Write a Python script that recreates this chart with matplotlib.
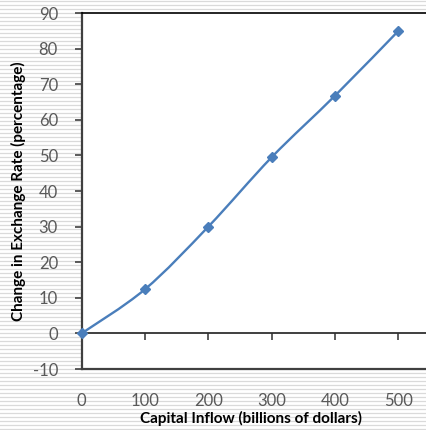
import matplotlib
matplotlib.use('Agg')
import matplotlib.pyplot as plt
from matplotlib.path import Path
from matplotlib.patches import PathPatch

# data
capital_inflow = [0, 100, 200, 300, 400, 500]
rate_change = [0, 12.4, 30.0, 49.5, 66.8, 85.0]
x_ticks = [0, 100, 200, 300, 400, 500]
y_ticks = [-10, 0, 10, 20, 30, 40, 50, 60, 70, 80, 90]

line_color = '#4a7ebb'
tick_color = '#595959'
plt.rcParams['font.family'] = ['Lato', 'DejaVu Sans']
plt.rcParams['axes.unicode_minus'] = False

fig = plt.figure(figsize=(4.27, 4.30), dpi=100)

# striped background
bg = fig.add_axes([0, 0, 1, 1], zorder=-1)
bg.set_xlim(0, 1)
bg.set_ylim(0, 430)
bg.axis('off')
for yy in range(1, 430, 4):
    bg.axhline(yy, color='#dadada', lw=0.9)

ax = fig.add_axes([81.6 / 427, 1 - 369 / 430, 1 - 81.6 / 427, (369 - 13) / 430])
ax.set_facecolor('white')
ax.set_xlim(0, 545)
ax.set_ylim(-10, 90)

# smooth line like Excel (Catmull-Rom to cubic Bezier)
pts = list(zip(capital_inflow, rate_change))
verts = [pts[0]]
codes = [Path.MOVETO]
for i in range(len(pts) - 1):
    p0 = pts[max(i - 1, 0)]
    p1 = pts[i]
    p2 = pts[i + 1]
    p3 = pts[min(i + 2, len(pts) - 1)]
    c1 = (p1[0] + (p2[0] - p0[0]) / 6, p1[1] + (p2[1] - p0[1]) / 6)
    c2 = (p2[0] - (p3[0] - p1[0]) / 6, p2[1] - (p3[1] - p1[1]) / 6)
    verts += [c1, c2, p2]
    codes += [Path.CURVE4] * 3
ax.add_patch(PathPatch(Path(verts, codes), fill=False, edgecolor=line_color,
                       lw=1.7, zorder=3, clip_on=False))
ax.plot(capital_inflow, rate_change, 'D', ms=5, color=line_color, zorder=4, clip_on=False)

# frame
ax.spines['right'].set_visible(False)
ax.spines['top'].set_color('black')
ax.spines['top'].set_linewidth(1.2)
for s in ['left', 'bottom']:
    ax.spines[s].set_color('#404040')
    ax.spines[s].set_linewidth(1.6)

ax.set_yticks(y_ticks)
ax.tick_params(axis='y', direction='out', length=5, width=1.2, color='#404040',
               pad=12, labelsize=12, labelcolor=tick_color)
ax.set_xticks(x_ticks)
ax.tick_params(axis='x', length=0, pad=17, labelsize=12, labelcolor=tick_color)

# axis line at zero with tick marks
sec = ax.secondary_xaxis(0, transform=ax.transData)
sec.set_xticks(x_ticks[1:])
sec.set_xticklabels([])
sec.tick_params(direction='out', length=5, width=1.2, color='#404040')
sec.spines['bottom'].set_color('#303030')
sec.spines['bottom'].set_linewidth(1.3)

ax.set_xlabel('Capital Inflow (billions of dollars)', fontsize=11, fontweight='bold')
ax.xaxis.set_label_coords(0.49, -0.118)
ax.set_ylabel('Change in Exchange Rate (percentage)', fontsize=11, fontweight='bold')
ax.yaxis.set_label_coords(-0.162, 0.5)

fig.savefig('out.png', dpi=100)
